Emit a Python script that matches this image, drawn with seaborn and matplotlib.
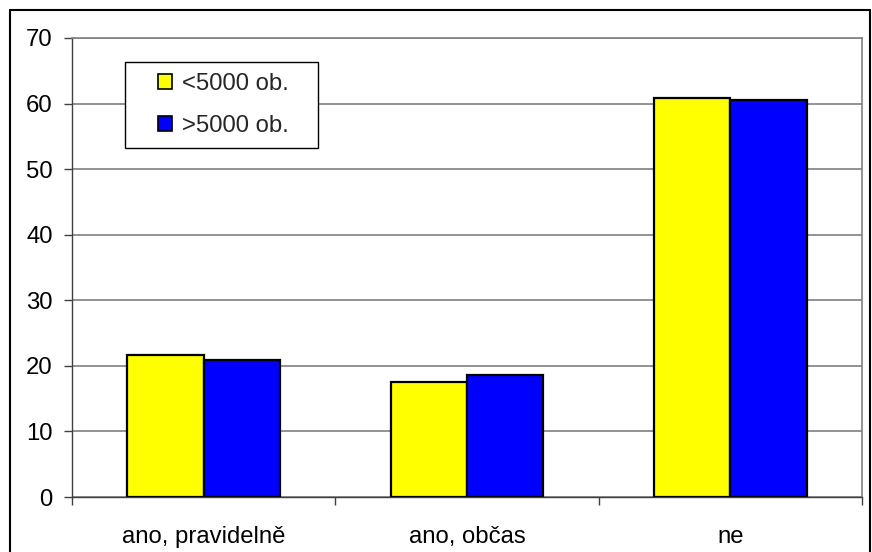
import matplotlib
matplotlib.use("Agg")
import matplotlib.pyplot as plt
import seaborn as sns
import pandas as pd
from matplotlib.lines import Line2D
from matplotlib.patches import Patch, Rectangle

categories = ["ano, pravidelně", "ano, občas", "ne"]
series_names = ["<5000 ob.", ">5000 ob."]
small_values = [21.6, 17.6, 60.9]
large_values = [20.9, 18.6, 60.6]
yticks = [0, 10, 20, 30, 40, 50, 60, 70]
colors = ["#FFFF00", "#0000FF"]

df = pd.DataFrame({
    "cat": categories * 2,
    "series": [series_names[0]] * 3 + [series_names[1]] * 3,
    "value": small_values + large_values,
})

sns.set_style("white")
plt.rcParams['font.family'] = ['Liberation Sans', 'DejaVu Sans']

FS = 17.2
W, H = 872, 552
fig = plt.figure(figsize=(W / 100, H / 100), dpi=100)
ax = fig.add_axes([72 / W, 1 - 497 / H, (862 - 72) / W, (497 - 38) / H])

sns.barplot(data=df, x="cat", y="value", hue="series", order=categories,
            hue_order=series_names, palette=colors, saturation=1, width=0.58,
            dodge=True, edgecolor="black", linewidth=1.6, ax=ax, legend=False,
            zorder=3)

ax.set_xlim(-0.5, 2.5)
ax.set_ylim(0, 70)
ax.set_yticks(yticks)
ax.yaxis.grid(True, color="#808080", linewidth=1.2, zorder=0)
ax.set_axisbelow(True)
ax.set_xlabel("")
ax.set_ylabel("")

for s in ["top", "right"]:
    ax.spines[s].set_color("#808080")
    ax.spines[s].set_linewidth(1.2)
for s in ["left", "bottom"]:
    ax.spines[s].set_color("#404040")
    ax.spines[s].set_linewidth(1.0)

ax.tick_params(axis="y", which="major", length=6, width=1, color="#404040",
               labelsize=FS, pad=8, left=True, labelcolor="black")
ax.tick_params(axis="x", which="major", length=0, labelsize=FS, pad=21,
               labelcolor="black")
ax.set_xticks([-0.5, 0.5, 1.5, 2.5], minor=True)
ax.tick_params(axis="x", which="minor", length=6, width=1, color="#404040",
               bottom=True)

# legend frame drawn as a separate box
fig.add_artist(Rectangle((125 / W, 1 - 148 / H), (318 - 125) / W, (148 - 62) / H,
                         transform=fig.transFigure, facecolor="white",
                         edgecolor="black", linewidth=1.0, zorder=4))

handles = [Patch(facecolor=colors[i], edgecolor="black", linewidth=1.2,
                 label=series_names[i]) for i in range(2)]
leg = fig.legend(handles=handles, loc="upper left",
                 bbox_to_anchor=(158 / W, 1 - 73 / H),
                 bbox_transform=fig.transFigure,
                 frameon=False, fontsize=FS,
                 handlelength=0.6, handleheight=0.6, handletextpad=0.4,
                 labelspacing=0.84, borderpad=0, borderaxespad=0)
leg.set_zorder(5)

# outer border
x0, x1 = 10 / W, 870 / W
yt = 1 - 10 / H
for xs, ys in [([x0, x0], [0, yt]), ([x0, x1], [yt, yt]), ([x1, x1], [0, yt])]:
    fig.add_artist(Line2D(xs, ys, color="black", linewidth=1.5,
                          transform=fig.transFigure))

fig.savefig("out.png", dpi=100, facecolor="white")
